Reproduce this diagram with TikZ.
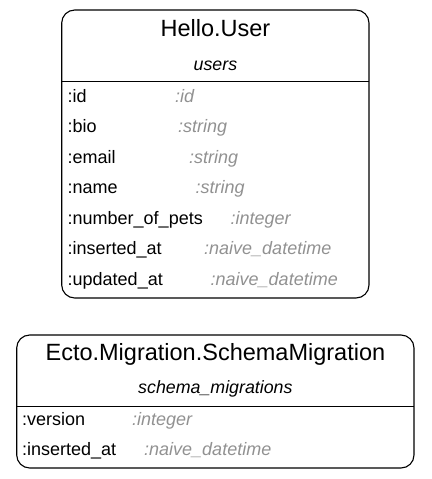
\documentclass[tikz,border=0pt]{standalone}
\usepackage{fontspec}
\setmainfont{Liberation Sans}
\definecolor{typegray}{RGB}{145,145,145}
\tikzset{
  tbox/.style={draw=black, line width=1.1pt, rounded corners=13pt},
  sepline/.style={draw=black, line width=1.1pt},
  ttl/.style={anchor=base, inner sep=0pt, font=\fontsize{23.5}{28}\selectfont},
  sub/.style={anchor=base, inner sep=0pt, font=\fontsize{17.8}{21}\selectfont\itshape},
  fname/.style={anchor=base west, inner sep=0pt, font=\fontsize{18}{21}\selectfont},
  ftype/.style={anchor=base west, inner sep=0pt, text=typegray, font=\fontsize{18}{21}\selectfont\itshape}
}
\begin{document}
\begin{tikzpicture}[x=1pt,y=-1pt]
\useasboundingbox (0,0) rectangle (431,479);
% Hello.User
\draw[tbox] (61.7,10) rectangle (369,298);
\coordinate (s1l) at (61.7,81.7);
\coordinate (s1r) at (369,81.7);
\draw[sepline] (s1l) -- (s1r);
\node[ttl] (t1) at (215.4,36.7) {Hello.User};
\node[sub] (u1) at (215.4,70) {users};
\node[fname] (n1) at (67.5,102) {:id};
\node[ftype] (y1) at (175,102) {:id};
\node[fname] (n2) at (67.5,132.5) {:bio};
\node[ftype] (y2) at (178,132.5) {:string};
\node[fname] (n3) at (67.5,163) {:email};
\node[ftype] (y3) at (189,163) {:string};
\node[fname] (n4) at (67.5,193.5) {:name};
\node[ftype] (y4) at (195.5,193.5) {:string};
\node[fname] (n5) at (67.5,224) {:number\_of\_pets};
\node[ftype] (y5) at (230.5,224) {:integer};
\node[fname] (n6) at (67.5,254.5) {:inserted\_at};
\node[ftype] (y6) at (204,254.5) {:naive\_datetime};
\node[fname] (n7) at (67.5,285) {:updated\_at};
\node[ftype] (y7) at (210.5,285) {:naive\_datetime};
% Ecto.Migration.SchemaMigration
\draw[tbox] (16.7,335) rectangle (414,468);
\coordinate (s2l) at (16.7,406.5);
\coordinate (s2r) at (414,406.5);
\draw[sepline] (s2l) -- (s2r);
\node[ttl] (t2) at (215.4,360) {Ecto.Migration.SchemaMigration};
\node[sub] (u2) at (215.4,393) {schema\_migrations};
\node[fname] (m1) at (22,425.5) {:version};
\node[ftype] (z1) at (132,425.5) {:integer};
\node[fname] (m2) at (22,455) {:inserted\_at};
\node[ftype] (z2) at (144,455) {:naive\_datetime};
\end{tikzpicture}
\end{document}
